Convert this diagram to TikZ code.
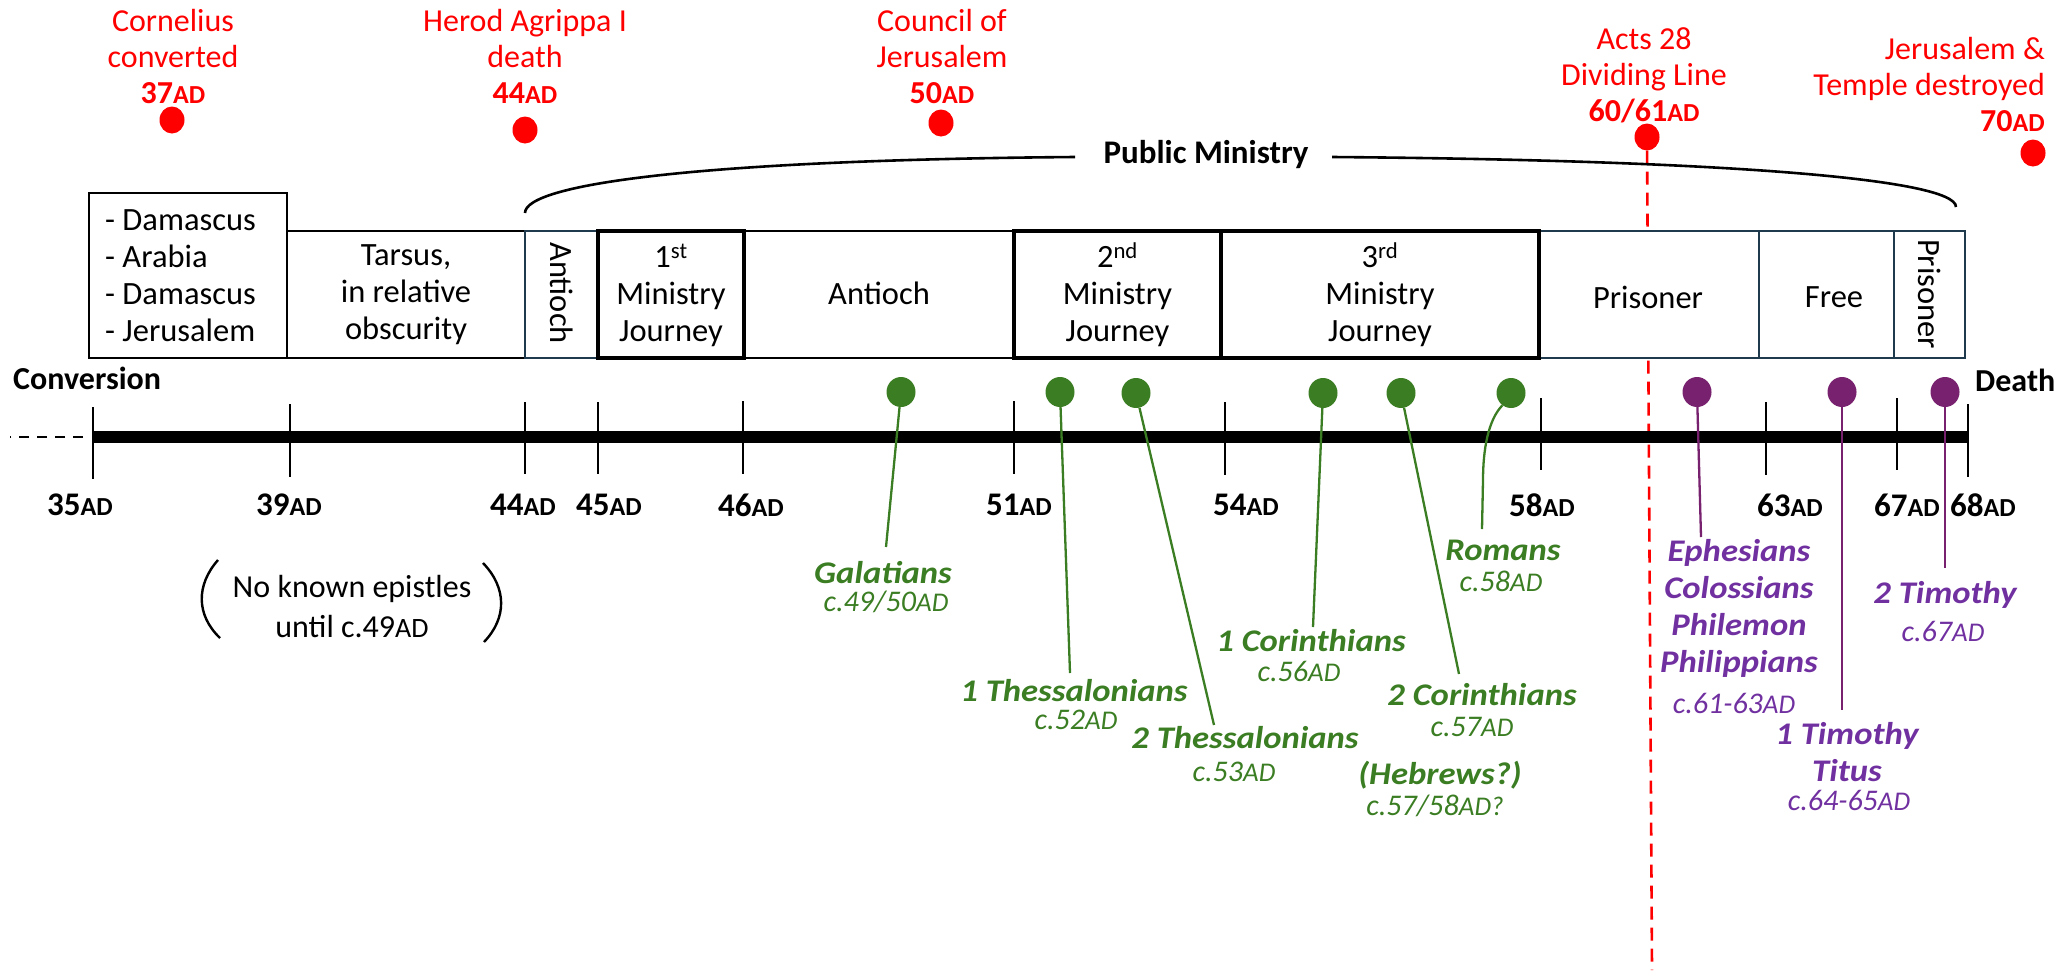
\documentclass[tikz,border=0pt]{standalone}
\usepackage{fontspec}
\setmainfont{Carlito}
\newfontfamily\epfont{Carlito}[FakeStretch=1.1]
\usetikzlibrary{shapes.geometric}
\definecolor{epgreen}{HTML}{3A7D22}
\definecolor{eppurple}{HTML}{7030A0}
\definecolor{dotpurple}{HTML}{78216F}
\definecolor{slate}{HTML}{1F3A4D}
\newcommand{\yearlbl}[1]{{\bfseries\fontsize{33}{33}\selectfont #1\fontsize{26}{26}\selectfont AD}}
\newcommand{\evyear}[1]{{\bfseries\fontsize{32}{32}\selectfont #1\fontsize{26}{26}\selectfont AD}}
\newcommand{\epdate}[2][]{{\itshape\fontsize{30}{30}\selectfont #2\fontsize{27}{27}\selectfont AD#1}}
\begin{document}
\begin{tikzpicture}[x=1pt,y=-1pt,
  evt/.style={text=red, font=\fontsize{32}{36}\selectfont, align=center, inner sep=0pt},
  rdot/.style={ellipse, fill=red, minimum width=25pt, minimum height=27pt, inner sep=0pt},
  gdot/.style={ellipse, fill=epgreen, minimum width=29pt, minimum height=30pt, inner sep=0pt},
  pdot/.style={ellipse, fill=dotpurple, minimum width=29pt, minimum height=30pt, inner sep=0pt},
  thinbox/.style={draw=black, line width=1.4pt, fill=white, inner sep=0pt},
  slatebox/.style={draw=slate, line width=1.7pt, fill=white, inner sep=0pt},
  thickbox/.style={draw=black, line width=4pt, inner sep=0pt},
  boxtxt/.style={font=\fontsize{32.5}{37}\selectfont, align=center, inner sep=0pt},
  tickline/.style={line width=2pt},
  yl/.style={inner sep=0pt},
  gname/.style={text=epgreen, font=\epfont\bfseries\itshape\fontsize{31.5}{37}\selectfont, align=center, inner sep=0pt},
  gdate/.style={text=epgreen, inner sep=0pt},
  pname/.style={text=eppurple, font=\epfont\bfseries\itshape\fontsize{31.5}{37}\selectfont, align=center, inner sep=0pt},
  pdate/.style={text=eppurple, inner sep=0pt},
  gstem/.style={draw=epgreen, line width=2.3pt},
  pstem/.style={draw=dotpurple, line width=2.3pt},
  bracket/.style={draw=black, line width=2.6pt},
  lbl/.style={font=\bfseries\fontsize{32}{32}\selectfont, inner sep=0pt}
]
\useasboundingbox (0,0) rectangle (2063,970);

% ---- red events ----
\node[evt] (e37) at (173,56) {Cornelius\\converted\\\evyear{37}};
\node[evt] (e44) at (525,56) {Herod Agrippa I\\death\\\evyear{44}};
\node[evt] (e50) at (942,56) {Council of\\Jerusalem\\\evyear{50}};
\node[evt] (e60) at (1644,75) {Acts 28\\Dividing Line\\\evyear{60/61}};
\node[evt, align=right, anchor=east] (e70) at (2045,84) {Jerusalem \&\\Temple destroyed\\\evyear{70}};
\node[rdot] (d37) at (172,120) {};
\node[rdot] (d44) at (525,130) {};
\node[rdot] (d50) at (941,123) {};
\node[rdot] (d60) at (1647,137) {};
\node[rdot] (d70) at (2033,153) {};

% dividing line
\coordinate (actsEnd) at (1652,970);
\draw[red, line width=2.6pt, dash pattern=on 13pt off 8pt] (d60) -- (actsEnd);

% ---- public ministry bracket ----
\node[lbl, font=\bfseries\fontsize{33}{33}\selectfont] (pm) at (1206,155) {Public Ministry};
\coordinate (pmA) at (525,213);
\coordinate (pmB) at (1075,157);
\coordinate (pmC) at (1332,157);
\coordinate (pmD) at (1956,207);
\draw[bracket] (pmA) .. controls (525,184) and (700,160) .. (pmB);
\draw[bracket] (pmC) .. controls (1710,160) and (1956,178) .. (pmD);

% ---- period boxes ----
\node[thinbox, minimum width=198pt, minimum height=165pt] (bDam) at (188,275.5) {};
\node[thinbox, minimum width=238pt, minimum height=127pt] (bTar) at (406,294.5) {};
\node[slatebox, minimum width=73pt, minimum height=127pt] (bAnt1) at (561.5,294.5) {};
\node[thinbox, minimum width=270pt, minimum height=127pt] (bAnt2) at (879,294.5) {};
\node[slatebox, minimum width=220pt, minimum height=127pt] (bPri) at (1649,294.5) {};
\node[slatebox, minimum width=135pt, minimum height=127pt] (bFree) at (1826.5,294.5) {};
\node[slatebox, minimum width=71pt, minimum height=127pt] (bPri2) at (1929.5,294.5) {};
\node[thickbox, fill=white, minimum width=146pt, minimum height=127pt] (b1st) at (671,294.5) {};
\node[thickbox, fill=white, minimum width=207pt, minimum height=127pt] (b2nd) at (1117.5,294.5) {};
\node[thickbox, fill=white, minimum width=318pt, minimum height=127pt] (b3rd) at (1380,294.5) {};

\node[boxtxt, align=left, anchor=west] (tDam) at (105,276) {- Damascus\\- Arabia\\- Damascus\\- Jerusalem};
\node[boxtxt] (tTar) at (406,295) {Tarsus,\\in relative\\obscurity};
\node[boxtxt, rotate=-90] (tAnt1) at (561.5,293) {Antioch};
\node[boxtxt] (t1st) at (671,295) {1\textsuperscript{st}\\Ministry\\Journey};
\node[boxtxt] (tAnt2) at (879,293) {Antioch};
\node[boxtxt] (t2nd) at (1117.5,295) {2\textsuperscript{nd}\\Ministry\\Journey};
\node[boxtxt] (t3rd) at (1380,295) {3\textsuperscript{rd}\\Ministry\\Journey};
\node[boxtxt] (tPri) at (1648,297) {Prisoner};
\node[boxtxt] (tFree) at (1834,297) {Free};
\node[boxtxt, rotate=-90] (tPri2) at (1930,294) {Prisoner};

% ---- axis ----
\node[lbl, anchor=west] (conv) at (13,378) {Conversion};
\node[lbl, anchor=west] (death) at (1975,380) {Death};
\coordinate (axL) at (93,437);
\coordinate (axR) at (1968,437);
\coordinate (leadL) at (10,437);
\coordinate (leadR) at (83,437);
\draw[line width=2pt, dash pattern=on 10.5pt off 7.5pt] (leadR) -- (leadL);
\draw[line width=12.5pt] (axL) -- (axR);
\foreach \tx/\ta/\tb in {93/407/479, 290/404/477, 525/402/474, 598/402/474, 743/401/474, 1014/401/474, 1225/402/475, 1541/398/470, 1766/402/475, 1897/398/470, 1968/404/477}
  \draw[tickline] (\tx,\ta) -- (\tx,\tb);

\node[yl] (y35) at (80,505) {\yearlbl{35}};
\node[yl] (y39) at (289,505) {\yearlbl{39}};
\node[yl] (y44) at (523,505) {\yearlbl{44}};
\node[yl] (y45) at (609,505) {\yearlbl{45}};
\node[yl] (y46) at (751,505) {\yearlbl{46}};
\node[yl] (y51) at (1019,505) {\yearlbl{51}};
\node[yl] (y54) at (1246,505) {\yearlbl{54}};
\node[yl] (y58) at (1542,505) {\yearlbl{58}};
\node[yl] (y63) at (1790,505) {\yearlbl{63}};
\node[yl] (y67) at (1907,505) {\yearlbl{67}};
\node[yl] (y68) at (1983,505) {\yearlbl{68}};

% ---- no known epistles ----
\node[boxtxt, font=\fontsize{32}{40}\selectfont] (noep) at (352,607) {No known epistles\\until c.49{\fontsize{28}{28}\selectfont AD}};
\draw[line width=2.4pt] (218,560) .. controls (196,585) and (196,615) .. (220,638);
\draw[line width=2.4pt] (483,563) .. controls (507,588) and (507,618) .. (484,642);

% ---- epistle markers ----
\node[gdot] (gGal) at (901,392) {};
\node[gdot] (g1Th) at (1060,392) {};
\node[gdot] (g2Th) at (1136,393) {};
\node[gdot] (g1Co) at (1323,393) {};
\node[gdot] (g2Co) at (1401,393) {};
\node[gdot] (gRom) at (1511,393) {};
\node[pdot] (pEph) at (1697,392) {};
\node[pdot] (p1Ti) at (1842,392) {};
\node[pdot] (p2Ti) at (1945,392) {};

\coordinate (sGal) at (886,547);
\coordinate (s1Th) at (1070,673);
\coordinate (s2Th) at (1214,725);
\coordinate (s1Co) at (1313,627);
\coordinate (s2Co) at (1459,674);
\coordinate (sRomA) at (1483,480);
\coordinate (sRom) at (1482,529);
\coordinate (sEph) at (1701,537);
\coordinate (s1Ti) at (1842,710);
\coordinate (s2Ti) at (1945,568);

\draw[gstem] (gGal) -- (sGal);
\draw[gstem] (g1Th) -- (s1Th);
\draw[gstem] (g2Th) -- (s2Th);
\draw[gstem] (g1Co) -- (s1Co);
\draw[gstem] (g2Co) -- (s2Co);
\draw[gstem] (gRom.235) .. controls (1488,420) and (1483,450) .. (sRomA) -- (sRom);
\draw[pstem] (pEph) -- (sEph);
\draw[pstem] (p1Ti) -- (s1Ti);
\draw[pstem] (p2Ti) -- (s2Ti);

% green epistles
\node[gname] (nGal) at (883,573) {Galatians};
\node[gdate] (dGal) at (886,602) {\epdate{c.49/50}};
\node[gname] (n1Th) at (1074,691) {1 Thessalonians};
\node[gdate] (d1Th) at (1076,720) {\epdate{c.52}};
\node[gname] (n2Th) at (1245,738) {2 Thessalonians};
\node[gdate] (d2Th) at (1234,772) {\epdate{c.53}};
\node[gname] (n1Co) at (1311,641) {1 Corinthians};
\node[gdate] (d1Co) at (1299,671) {\epdate{c.56}};
\node[gname] (n2Co) at (1482,695) {2 Corinthians};
\node[gdate] (d2Co) at (1472,727) {\epdate{c.57}};
\node[gname] (nHeb) at (1440,775) {(Hebrews?)};
\node[gdate] (dHeb) at (1435,806) {\epdate[?]{c.57/58}};
\node[gname] (nRom) at (1503,550) {Romans};
\node[gdate] (dRom) at (1501,581) {\epdate{c.58}};

% purple epistles
\node[pname] (nEph) at (1739,608) {Ephesians\\Colossians\\Philemon\\Philippians};
\node[pdate] (dEph) at (1734,703) {\epdate{c.61-63}};
\node[pname] (n1Ti) at (1847,752) {1 Timothy\\Titus};
\node[pdate] (d1Ti) at (1849,800) {\epdate{c.64-65}};
\node[pname] (n2Ti) at (1945,595) {2 Timothy};
\node[pdate] (d2Ti) at (1943,631) {\epdate{c.67}};
\end{tikzpicture}
\end{document}
